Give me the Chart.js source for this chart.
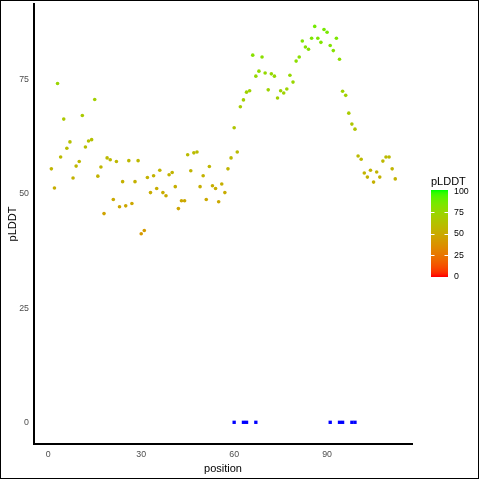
<!DOCTYPE html>
<html>
<head>
<meta charset="utf-8">
<title>pLDDT by position</title>
<script src="https://cdn.jsdelivr.net/npm/chart.js@4.4.1/dist/chart.umd.min.js"></script>
<style>
    html, body { margin: 0; padding: 0; background: #ffffff; }
    #wrap { width: 480px; height: 480px; position: relative; }
</style>
</head>
<body>
<div id="wrap"><canvas id="plddtChart" width="480" height="480"></canvas></div>
<script>
// Residue positions and their pLDDT scores
const positions = [
    1, 2, 3, 4, 5, 6, 7, 8, 9, 10, 11, 12, 13, 14, 15, 16, 17, 18, 19, 20,
    21, 22, 23, 24, 25, 26, 27, 28, 29, 30, 31, 32, 33, 34, 35, 36, 37, 38, 39, 40,
    41, 42, 43, 44, 45, 46, 47, 48, 49, 50, 51, 52, 53, 54, 55, 56, 57, 58, 59, 60,
    61, 62, 63, 64, 65, 66, 67, 68, 69, 70, 71, 72, 73, 74, 75, 76, 77, 78, 79, 80,
    81, 82, 83, 84, 85, 86, 87, 88, 89, 90, 91, 92, 93, 94, 95, 96, 97, 98, 99, 100,
    101, 102, 103, 104, 105, 106, 107, 108, 109, 110, 111, 112
];
const plddt = [
    55.5, 51.3, 74.2, 58.1, 66.4, 60.0, 61.4, 53.5, 56.1, 57.1,
    67.2, 60.3, 61.6, 61.9, 70.7, 53.9, 55.9, 45.7, 57.9, 57.5,
    48.8, 57.1, 47.2, 52.7, 47.4, 57.3, 47.9, 52.7, 57.3, 41.3,
    42.0, 53.6, 50.3, 54.0, 51.2, 55.2, 50.3, 49.6, 54.2, 54.7,
    51.6, 46.8, 48.5, 48.5, 58.6, 55.1, 59.0, 59.2, 51.6, 54.0,
    48.8, 56.0, 51.8, 51.2, 48.3, 52.2, 50.3, 55.5, 57.9, 64.5,
    59.2, 69.1, 70.6, 72.3, 72.6, 80.4, 75.8, 76.9, 80.0, 76.5,
    72.8, 76.3, 75.8, 71.0, 72.6, 72.1, 73.0, 76.0, 74.5, 79.1,
    80.0, 83.5, 82.2, 81.7, 84.1, 86.7, 84.1, 83.2, 86.0, 85.4,
    82.5, 81.4, 84.1, 79.5, 72.5, 71.6, 67.7, 65.3, 64.2, 58.3,
    57.6, 54.6, 53.7, 55.2, 52.6, 54.8, 53.7, 57.2, 58.1, 58.1,
    55.5, 53.3
];

// Marked positions drawn along the baseline
const markedPositions = [60, 63, 64, 67, 91, 94, 95, 98, 99];
const markedValues = [0, 0, 0, 0, 0, 0, 0, 0, 0];

// Tick labels
const xTicks = [0, 30, 60, 90];
const yTicks = [0, 25, 50, 75];
const legendTicks = [0, 25, 50, 75, 100];

const FONT = '"Liberation Sans", Arial, sans-serif';

document.addEventListener('DOMContentLoaded', function() {
    initializeChart();
});

// Colour scale: red -> green, interpolated in Lab space
function srgbToLinear(c) {
    c /= 255;
    return c <= 0.04045 ? c / 12.92 : Math.pow((c + 0.055) / 1.055, 2.4);
}

function linearToSrgb(c) {
    c = c <= 0.0031308 ? 12.92 * c : 1.055 * Math.pow(c, 1 / 2.4) - 0.055;
    return Math.round(Math.min(1, Math.max(0, c)) * 255);
}

function rgbToLab(rgb) {
    const [r, g, b] = rgb.map(srgbToLinear);
    const x = (0.4124564 * r + 0.3575761 * g + 0.1804375 * b) / 0.95047;
    const y = (0.2126729 * r + 0.7151522 * g + 0.0721750 * b);
    const z = (0.0193339 * r + 0.1191920 * g + 0.9503041 * b) / 1.08883;
    const f = t => t > 0.008856 ? Math.cbrt(t) : (7.787 * t + 16 / 116);
    const fx = f(x), fy = f(y), fz = f(z);
    return [116 * fy - 16, 500 * (fx - fy), 200 * (fy - fz)];
}

function labToRgb(lab) {
    const fy = (lab[0] + 16) / 116;
    const fx = fy + lab[1] / 500;
    const fz = fy - lab[2] / 200;
    const inv = t => t > 0.206893 ? t * t * t : (t - 16 / 116) / 7.787;
    const x = inv(fx) * 0.95047, y = inv(fy), z = inv(fz) * 1.08883;
    const r = 3.2404542 * x - 1.5371385 * y - 0.4985314 * z;
    const g = -0.9692660 * x + 1.8760108 * y + 0.0415560 * z;
    const b = 0.0556434 * x - 0.2040259 * y + 1.0572252 * z;
    return [r, g, b].map(linearToSrgb);
}

const LOW_LAB = rgbToLab([255, 0, 0]);
const HIGH_LAB = rgbToLab([0, 255, 0]);

function plddtColor(value) {
    const t = Math.min(1, Math.max(0, value / 100));
    const lab = LOW_LAB.map((v, i) => v + (HIGH_LAB[i] - v) * t);
    const rgb = labToRgb(lab);
    return `rgb(${rgb[0]}, ${rgb[1]}, ${rgb[2]})`;
}

// White background + outer frame + colourbar legend
const framePlugin = {
    id: 'frame',
    beforeDraw(chart) {
        const ctx = chart.ctx;
        ctx.save();
        ctx.fillStyle = '#ffffff';
        ctx.fillRect(0, 0, chart.width, chart.height);
        ctx.restore();
    },
    afterDraw(chart) {
        const ctx = chart.ctx;
        ctx.save();
        ctx.strokeStyle = '#000000';
        ctx.lineWidth = 1;
        ctx.strokeRect(0.5, 0.5, 478, 478);
        drawColorbar(ctx);
        ctx.restore();
    }
};

function drawColorbar(ctx) {
    const left = 431, width = 17;
    const top = 190, bottom = 277;
    const vTop = 191, vBottom = 276;
    const toY = v => vBottom - (vBottom - vTop) * v / 100;

    // gradient strips
    for (let y = top; y < bottom; y++) {
        const v = (vBottom - (y + 0.5)) / (vBottom - vTop) * 100;
        ctx.fillStyle = plddtColor(v);
        ctx.fillRect(left, y, width, 1);
    }

    // white tick marks
    ctx.strokeStyle = '#ffffff';
    ctx.lineWidth = 1;
    legendTicks.forEach(v => {
        if (v === 0 || v === 100) return;
        const y = Math.round(toY(v)) + 0.5;
        ctx.beginPath();
        ctx.moveTo(left, y);
        ctx.lineTo(left + 3.5, y);
        ctx.moveTo(left + width - 3.5, y);
        ctx.lineTo(left + width, y);
        ctx.stroke();
    });

    // labels
    ctx.fillStyle = '#000000';
    ctx.font = '8.8px ' + FONT;
    ctx.textAlign = 'left';
    ctx.textBaseline = 'middle';
    legendTicks.forEach(v => {
        ctx.fillText(String(v), 454, toY(v) + 0.5);
    });

    // title
    ctx.font = '11px ' + FONT;
    ctx.textBaseline = 'middle';
    ctx.fillText('pLDDT', 431, 182);
}

function initializeChart() {
    const ctx = document.getElementById('plddtChart');
    if (!ctx) return;

    const points = positions.map((p, i) => ({ x: p, y: plddt[i] }));
    const marks = markedPositions.map((p, i) => ({ x: p, y: markedValues[i] }));

    new Chart(ctx, {
        type: 'scatter',
        data: {
            datasets: [{
                label: 'pLDDT',
                data: points,
                pointRadius: 1.8,
                pointBorderWidth: 0,
                pointBackgroundColor: plddt.map(plddtColor),
                pointBorderColor: 'rgba(0,0,0,0)'
            }, {
                label: 'marked',
                data: marks,
                pointStyle: 'rect',
                pointRadius: 2.35,
                pointBorderWidth: 0,
                pointBackgroundColor: '#0000ff',
                pointBorderColor: 'rgba(0,0,0,0)'
            }]
        },
        options: {
            responsive: false,
            animation: false,
            layout: {
                padding: { left: 6, right: 68, top: 4, bottom: 4 }
            },
            plugins: {
                legend: { display: false },
                tooltip: { enabled: false }
            },
            scales: {
                x: {
                    type: 'linear',
                    min: -4.6,
                    max: 117.4,
                    afterFit: scale => {
                        scale.height = 32;
                        scale.paddingLeft = 0;
                        scale.paddingRight = 0;
                    },
                    afterBuildTicks: scale => { scale.ticks = xTicks.map(v => ({ value: v })); },
                    grid: { display: false, drawTicks: false },
                    border: { display: true, color: '#000000', width: 2 },
                    ticks: {
                        color: '#4d4d4d',
                        padding: 5,
                        maxRotation: 0,
                        font: { family: FONT, size: 8.8 }
                    },
                    title: {
                        display: true,
                        text: 'position',
                        color: '#000000',
                        padding: 0,
                        font: { family: FONT, size: 11 }
                    }
                },
                y: {
                    type: 'linear',
                    min: -4.75,
                    max: 91.6,
                    afterFit: scale => {
                        scale.width = 28;
                        scale.paddingTop = 0;
                        scale.paddingBottom = 0;
                    },
                    afterBuildTicks: scale => { scale.ticks = yTicks.map(v => ({ value: v })); },
                    grid: { display: false, drawTicks: false },
                    border: { display: true, color: '#000000', width: 2 },
                    ticks: {
                        color: '#4d4d4d',
                        padding: 5,
                        font: { family: FONT, size: 8.8 }
                    },
                    title: {
                        display: true,
                        text: 'pLDDT',
                        color: '#000000',
                        padding: 0,
                        font: { family: FONT, size: 11 }
                    }
                }
            }
        },
        plugins: [framePlugin]
    });
}
</script>
</body>
</html>
